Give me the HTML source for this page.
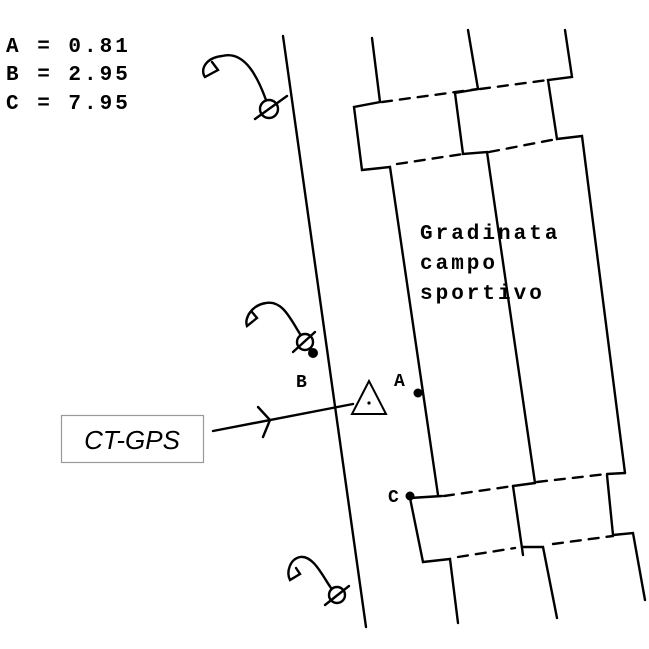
<!DOCTYPE html>
<html><head><style>body{margin:0;background:#fff}svg{display:block}</style></head><body>
<svg width="649" height="649" viewBox="0 0 649 649" xmlns="http://www.w3.org/2000/svg">
<rect width="649" height="649" fill="#fff"/>
<g font-family="Liberation Mono, monospace" font-size="21" font-weight="bold" letter-spacing="3" fill="#000">
<text x="6" y="52">A = 0.81</text>
<text x="6" y="80">B = 2.95</text>
<text x="6" y="109">C = 7.95</text>
<text x="420" y="239">Gradinata</text>
<text x="420" y="269">campo</text>
<text x="420" y="299">sportivo</text>
<text x="296" y="387" font-size="18" letter-spacing="0">B</text>
<text x="394" y="386" font-size="18" letter-spacing="0">A</text>
<text x="388" y="502" font-size="18" letter-spacing="0">C</text>
</g>
<g stroke="#000" stroke-width="2.4" fill="none" stroke-linecap="round">
<line x1="283" y1="36" x2="366" y2="627"/>
<polyline points="372,38 380,102 354,107 362,170 390,167 438,495"/>
<polyline points="468,30 478,89 455,93 463,154 487,152 535,483"/>
<polyline points="565,30 572,77 548,80 557,139 582,136 625,473"/>
<g stroke-dasharray="10,8">
<line x1="382" y1="102" x2="478" y2="89"/>
<line x1="480" y1="89" x2="548" y2="80"/>
<line x1="397" y1="164" x2="463" y2="154"/>
<line x1="489" y1="152" x2="557" y2="139"/>
<line x1="444" y1="496" x2="513" y2="486"/>
<line x1="537" y1="482" x2="607" y2="474"/>
<line x1="458" y1="557" x2="515" y2="548"/>
<line x1="553" y1="544" x2="613" y2="536"/>
</g>
<polyline points="410,498 442,496"/>
<polyline points="410,498 423,562 450,559 458,623"/>
<polyline points="513,486 535,483"/>
<polyline points="513,486 523,555"/>
<polyline points="523,547 543,547 557,618"/>
<polyline points="607,474 625,473"/>
<polyline points="607,475 613,535 633,533 645,600"/>
<circle cx="269" cy="109" r="9"/>
<line x1="255" y1="119" x2="287" y2="96"/>
<path d="M266,100 C258,78 245,50 222,56 C205,58 200,70 205,77 L218,70 L212,62"/>
<circle cx="305" cy="342" r="8"/>
<line x1="293" y1="352" x2="315" y2="332"/>
<path d="M300,334 C290,318 282,300 266,303 C252,305 244,318 247,326 L257,318 L252,312"/>
<circle cx="337" cy="595" r="8"/>
<line x1="325" y1="605" x2="349" y2="586"/>
<path d="M331,588 C322,575 313,555 300,557 C290,559 286,572 290,580 L300,574 L296,568"/>
<line x1="213" y1="431" x2="353" y2="404"/>
<polyline points="258,407 270,420 263,437"/>
</g>
<circle cx="313" cy="353" r="5" fill="#000"/>
<circle cx="418" cy="393" r="4.5" fill="#000"/>
<circle cx="410" cy="496" r="4.5" fill="#000"/>
<polygon points="369,381 352,414 386,414" fill="#fff" stroke="#000" stroke-width="2"/>
<circle cx="369" cy="403" r="1.6" fill="#000"/>
<rect x="61.5" y="415.5" width="142" height="47" fill="#fff" stroke="#999" stroke-width="1.2"/>
<text x="132" y="449" text-anchor="middle" font-family="Liberation Sans, sans-serif" font-style="italic" font-size="26" fill="#000">CT-GPS</text>
</svg>
</body></html>
